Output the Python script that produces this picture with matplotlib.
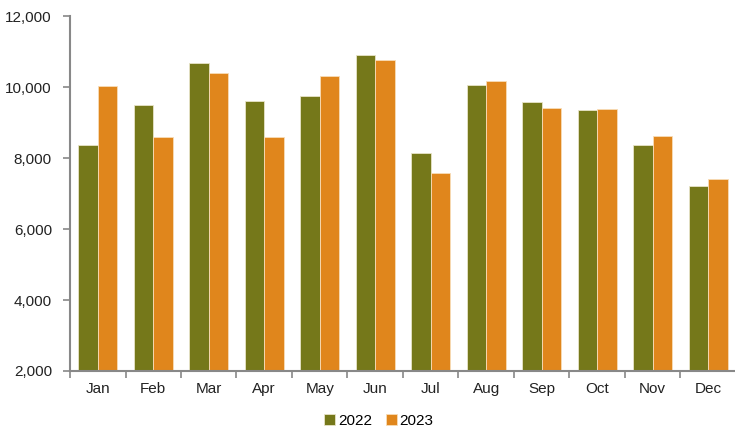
import matplotlib
matplotlib.use("Agg")
import matplotlib.pyplot as plt
import numpy as np
from matplotlib.ticker import FuncFormatter, MultipleLocator

months = ["Jan", "Feb", "Mar", "Apr", "May", "Jun", "Jul", "Aug", "Sep", "Oct", "Nov", "Dec"]
series_names = ["2022", "2023"]
values_2022 = [8375, 9513, 10676, 9625, 9766, 10918, 8160, 10073, 9597, 9372, 8358, 7211]
values_2023 = [10037, 8611, 10411, 8600, 10318, 10758, 7586, 10186, 9417, 9389, 8639, 7417]

plt.rcParams['font.family'] = ['Liberation Sans', 'DejaVu Sans']
plt.rcParams['font.size'] = 11

fig = plt.figure(figsize=(7.35, 4.32), dpi=100)
ax = fig.add_axes([70/735, 1 - 371/432, 666/735, (371 - 16.3)/432])

x = np.arange(len(months))
w = 0.355
green = "#75781A"
orange = "#E0861C"
ax.bar(x - w/2, values_2022, width=w, color=green, edgecolor="#E8E4C8", linewidth=0.6, label=series_names[0])
ax.bar(x + w/2, values_2023, width=w, color=orange, edgecolor="#F8DDB8", linewidth=0.6, label=series_names[1])

ax.set_ylim(2000, 12000)
ax.set_xlim(-0.5, len(months) - 0.5)
ax.yaxis.set_major_locator(MultipleLocator(2000))
ax.yaxis.set_major_formatter(FuncFormatter(lambda v, p: f"{int(v):,}"))
ax.set_xticks(np.arange(-0.5, len(months), 1.0), minor=False)
ax.set_xticklabels([])
ax.set_xticks(x, minor=True)
ax.set_xticklabels(months, minor=True)
ax.tick_params(axis='x', which='minor', length=0, pad=8, labelsize=11, colors='#222222')
ax.tick_params(axis='x', which='major', length=5, color='#888888', width=1.2)
ax.tick_params(axis='y', length=5, color='#888888', width=1.2, labelsize=11, labelcolor='#222222', pad=8)
for s in ['top', 'right']:
    ax.spines[s].set_visible(False)
for s in ['left', 'bottom']:
    ax.spines[s].set_color('#888888')
    ax.spines[s].set_linewidth(1.5)

leg = fig.legend(loc='center', bbox_to_anchor=(379/735, 1 - 421/432), ncol=2, frameon=False,
                 handlelength=0.7, handleheight=0.7, handletextpad=0.2, columnspacing=0.9, fontsize=11)

fig.savefig("out.png", dpi=100)
